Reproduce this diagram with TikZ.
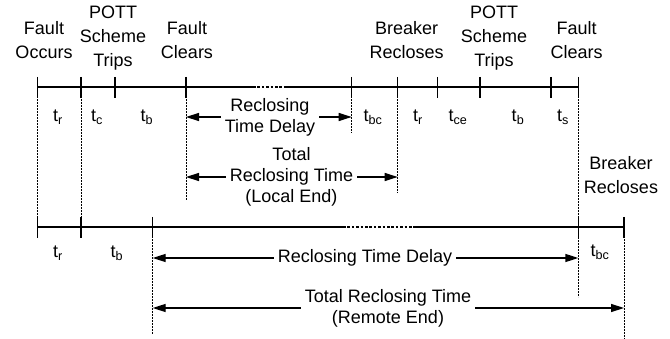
\documentclass[tikz,border=0pt]{standalone}
\usepackage{fontspec}
\setmainfont{Liberation Sans}
\usetikzlibrary{arrows.meta}
\tikzset{
	timeline/.style={line width=2.6pt},
	gapline/.style={line width=2.6pt, dash pattern=on 2.6pt off 1.8pt},
	tickmark/.style={line width=1.4pt},
	guide/.style={line width=1pt, dash pattern=on 1.6pt off 1.4pt},
	spanarrow/.style={line width=1.4pt, -{Triangle[length=13pt,width=8pt]}},
	event/.style={align=center, inner sep=0pt, font=\fontsize{18}{24}\selectfont},
	interval/.style={inner sep=0pt, font=\fontsize{18}{24}\selectfont},
	spantext/.style={align=center, inner sep=4pt, font=\fontsize{18}{21}\selectfont}
}
\begin{document}
\begin{tikzpicture}[x=1pt,y=-1pt]
	\useasboundingbox (0,0) rectangle (670,339);
	% local end time line
	\coordinate (a0) at (37.7,87);
	\coordinate (a1) at (81,87);
	\coordinate (a2) at (115,87);
	\coordinate (a3) at (186,87);
	\coordinate (ag1) at (253,87);
	\coordinate (ag2) at (284,87);
	\coordinate (a4) at (351.7,87);
	\coordinate (a5) at (397.7,87);
	\coordinate (a6) at (437.3,87);
	\coordinate (a7) at (480,87);
	\coordinate (a8) at (551,87);
	\coordinate (a9) at (578.3,87);
	% remote end time line
	\coordinate (b0) at (37.7,227);
	\coordinate (b1) at (81,227);
	\coordinate (b2) at (152.7,227);
	\coordinate (bg1) at (343,227);
	\coordinate (bg2) at (413,227);
	\coordinate (b3) at (578.3,227);
	\coordinate (b4) at (624,227);
	% ends of the guide lines
	\coordinate (a3e) at (186,200);
	\coordinate (a4e) at (351.7,133);
	\coordinate (a5e) at (397.7,193);
	\coordinate (b3e) at (578.3,297);
	\coordinate (b2e) at (152.7,334);
	\coordinate (b4e) at (624,339);

	\draw[guide] (a0) -- (b0);
	\draw[guide] (a1) -- (b1);
	\draw[guide] (a3) -- (a3e);
	\draw[guide] (a4) -- (a4e);
	\draw[guide] (a5) -- (a5e);
	\draw[guide] (a9) -- (b3e);
	\draw[guide] (b2) -- (b2e);
	\draw[guide] (b4) -- (b4e);

	\draw[timeline] (a0) -- (ag1);
	\draw[gapline] (ag1) -- (ag2);
	\draw[timeline] (ag2) -- (a9);
	\draw[timeline] (b0) -- (bg1);
	\draw[gapline] (bg1) -- (bg2);
	\draw[timeline] (bg2) -- (b4);

	\draw[tickmark] (a0) ++(0,-10) -- ++(0,21);
	\draw[tickmark] (a1) ++(0,-10) -- ++(0,21);
	\draw[tickmark] (a2) ++(0,-10) -- ++(0,21);
	\draw[tickmark] (a3) ++(0,-10) -- ++(0,21);
	\draw[tickmark] (a4) ++(0,-10) -- ++(0,21);
	\draw[tickmark] (a5) ++(0,-10) -- ++(0,21);
	\draw[tickmark] (a6) ++(0,-10) -- ++(0,21);
	\draw[tickmark] (a7) ++(0,-10) -- ++(0,21);
	\draw[tickmark] (a8) ++(0,-10) -- ++(0,21);
	\draw[tickmark] (a9) ++(0,-10) -- ++(0,21);
	\draw[tickmark] (b0) ++(0,-10) -- ++(0,21);
	\draw[tickmark] (b1) ++(0,-10) -- ++(0,21);
	\draw[tickmark] (b2) ++(0,-10) -- ++(0,21);
	\draw[tickmark] (b3) ++(0,-10) -- ++(0,21);
	\draw[tickmark] (b4) ++(0,-10) -- ++(0,21);

	% events
	\node[event] (occurs) at (44,40) {Fault\\Occurs};
	\node[event] (trips1) at (113,38.5) {POTT\\Scheme\\Trips};
	\node[event] (clears1) at (187,40) {Fault\\Clears};
	\node[event] (recl1) at (406.7,40) {Breaker\\Recloses};
	\node[event] (trips2) at (494,38.5) {POTT\\Scheme\\Trips};
	\node[event] (clears2) at (576.7,40) {Fault\\Clears};
	\node[event] (recl2) at (621,175) {Breaker\\Recloses};

	% intervals
	\node[interval] (tr1) at (58,117) {t\textsubscript{r}};
	\node[interval] (tc1) at (97,117) {t\textsubscript{c}};
	\node[interval] (tb1) at (147,117) {t\textsubscript{b}};
	\node[interval] (tbc1) at (373,117) {t\textsubscript{bc}};
	\node[interval] (tr2) at (418,117) {t\textsubscript{r}};
	\node[interval] (tce) at (458,117) {t\textsubscript{ce}};
	\node[interval] (tb2) at (518,117) {t\textsubscript{b}};
	\node[interval] (ts) at (563,117) {t\textsubscript{s}};
	\node[interval] (tr3) at (58,253) {t\textsubscript{r}};
	\node[interval] (tb3) at (117,253) {t\textsubscript{b}};
	\node[interval] (tbc2) at (600,252) {t\textsubscript{bc}};

	% spans
	\node[spantext] (delay1) at (270,117) {Reclosing\\Time Delay};
	\draw[spanarrow] (delay1.west) -- (a3 |- delay1.west);
	\draw[spanarrow] (delay1.east) -- (a4 |- delay1.east);
	\node[spantext] (total1) at (291.5,177) {Total\\Reclosing Time\\(Local End)};
	\draw[spanarrow] (total1.west) -- (a3 |- total1.west);
	\draw[spanarrow] (total1.east) -- (a5 |- total1.east);
	\node[spantext] (delay2) at (365,258) {Reclosing Time Delay};
	\draw[spanarrow] (delay2.west) -- (b2 |- delay2.west);
	\draw[spanarrow] (delay2.east) -- (b3 |- delay2.east);
	\node[spantext] (total2) at (388,308) {Total Reclosing Time\\(Remote End)};
	\draw[spanarrow] (total2.west) -- (b2 |- total2.west);
	\draw[spanarrow] (total2.east) -- (b4 |- total2.east);
\end{tikzpicture}
\end{document}
